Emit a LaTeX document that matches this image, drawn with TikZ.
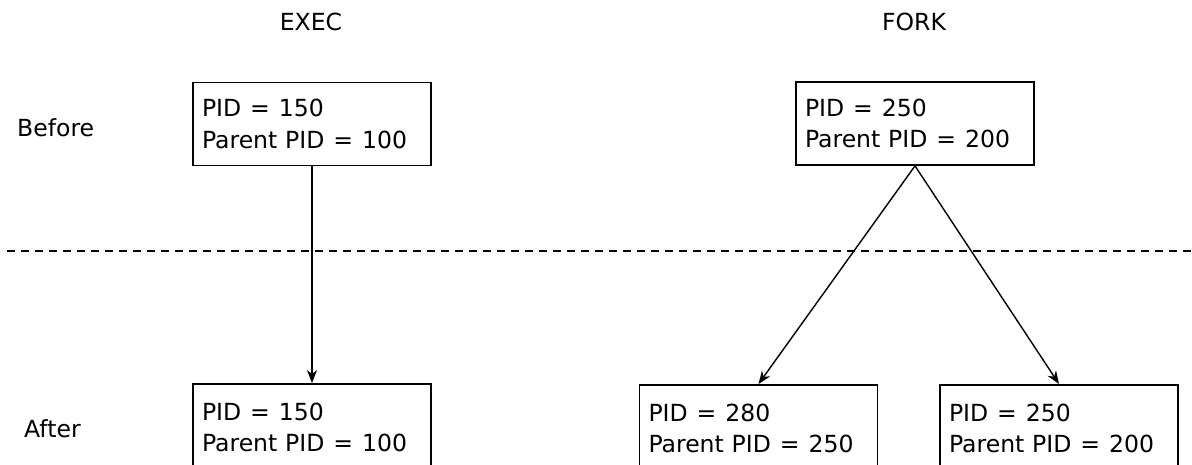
\documentclass[tikz,border=0pt]{standalone}
\usepackage{fontspec}
\setmainfont{DejaVu Sans}
\usetikzlibrary{arrows.meta, positioning}
\tikzset{
  pidbox/.style = {draw, line width=1pt, minimum width=4.76cm, minimum height=1.66cm,
    text width=4.4cm, inner xsep=0.18cm, align=left},
  lowbox/.style = {pidbox, minimum height=1.74cm},
  pidarrow/.style = {-{Stealth[length=0.26cm, width=0.2cm]}, line width=0.8pt},
}
\newcommand{\pideq}{\hspace{0.38em}=\hspace{0.38em}}

\begin{document}
\begin{tikzpicture}[font=\fontsize{13.4}{17.8}\selectfont]
				\useasboundingbox (0, 0) rectangle (23.84, -9.3);
				\clip (0, 0) rectangle (23.84, -9.3);

				\node[anchor=base] (exec) at (6.22, -0.62) {EXEC};
				\node[anchor=base] (fork) at (18.28, -0.62) {FORK};
				\node[anchor=base west] (before) at (0.22, -2.74) {Before};
				\node[anchor=base west] (after) at (0.36, -8.74) {After};

				\node[pidbox] (execold) at (6.24, -2.48) {PID\pideq 150\\Parent PID\pideq 100};
				\node[pidbox] (forkold) at (18.30, -2.47) {PID\pideq 250\\Parent PID\pideq 200};

				\node[lowbox, anchor=north] (execnew) at (6.24, -7.66) {PID\pideq 150\\Parent PID\pideq 100};
				\node[lowbox, anchor=north] (child) at (15.17, -7.68) {PID\pideq 280\\Parent PID\pideq 250};
				\node[lowbox, anchor=north] (parent) at (21.18, -7.68) {PID\pideq 250\\Parent PID\pideq 200};

				\coordinate (sepl) at (0.14, -5.02);
				\coordinate (sepr) at (23.84, -5.02);
				\draw[line width=0.7pt, dash pattern=on 0.16cm off 0.12cm] (sepl) -- (sepr);

				\draw[pidarrow] (execold.south) -- (execnew.north);
				\draw[pidarrow] (forkold.south) -- (child.north);
				\draw[pidarrow] (forkold.south) -- (parent.north);
			\end{tikzpicture}
\end{document}
